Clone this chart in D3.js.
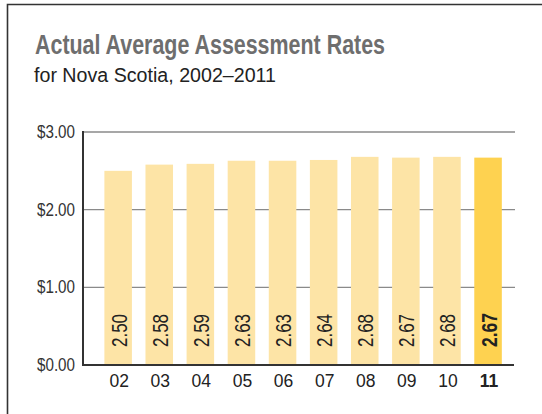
<!DOCTYPE html>
<html>
  <head>
    <script src="https://d3js.org/d3.v7.min.js"></script>
    <style>
      body { margin: 0; background: #fff; }
      text { font-family: "Liberation Sans", Arial, sans-serif; }
      .title { font-size: 28.5px; font-weight: bold; fill: #6e6e6e; }
      .subtitle { font-size: 20px; fill: #222; }
      .ytick { font-size: 17.5px; fill: #333; }
      .xtick { font-size: 17.5px; fill: #222; }
      .val { font-size: 22px; fill: #222; }
    </style>
  </head>
  <body>
    <svg width="542" height="414"></svg>
    <script>
      const years = ["02", "03", "04", "05", "06", "07", "08", "09", "10", "11"];
      const rates = [2.50, 2.58, 2.59, 2.63, 2.63, 2.64, 2.68, 2.67, 2.68, 2.67];
      const yTicks = [0, 1, 2, 3];
      const highlight = "11";

      const svg = d3.select("svg");

      // frame
      svg.append("path")
        .attr("d", "M7.5,414 V4.5 H542")
        .attr("fill", "none")
        .attr("stroke", "#333")
        .attr("stroke-width", 1.6);

      // the original face is condensed, so squeeze the text to its width
      svg.append("text").attr("class", "title")
        .attr("x", 35).attr("y", 53.5)
        .attr("textLength", 350).attr("lengthAdjust", "spacingAndGlyphs")
        .text("Actual Average Assessment Rates");
      svg.append("text").attr("class", "subtitle")
        .attr("x", 34).attr("y", 82)
        .attr("textLength", 242).attr("lengthAdjust", "spacingAndGlyphs")
        .text("for Nova Scotia, 2002–2011");

      const plotL = 83, plotR = 515, plotT = 132, plotB = 365;

      const y = d3.scaleLinear().domain([0, 3]).range([plotB, plotT]);
      const x = d3.scaleBand().domain(years)
        .range([97.6, 508.6])
        .paddingInner(0.33)
        .paddingOuter(0.165);

      // gridlines
      svg.append("g").selectAll("line")
        .data(yTicks.filter(d => d > 0))
        .join("line")
        .attr("x1", plotL).attr("x2", plotR)
        .attr("y1", d => y(d)).attr("y2", d => y(d))
        .attr("stroke", "#8a8a8a")
        .attr("stroke-width", 1.4);

      // y labels
      svg.append("g").selectAll("text")
        .data(yTicks)
        .join("text")
        .attr("class", "ytick")
        .attr("x", 75)
        .attr("y", d => y(d))
        .attr("dy", "0.35em")
        .attr("text-anchor", "end")
        .attr("textLength", 38).attr("lengthAdjust", "spacingAndGlyphs")
        .text(d => "$" + d.toFixed(2));

      // bars
      svg.append("g").selectAll("rect")
        .data(years)
        .join("rect")
        .attr("x", d => x(d))
        .attr("width", x.bandwidth())
        .attr("y", (d, i) => y(rates[i]))
        .attr("height", (d, i) => plotB - y(rates[i]))
        .attr("fill", d => d === highlight ? "#fed250" : "#fde4a6");

      // value labels
      svg.append("g").selectAll("text")
        .data(years)
        .join("text")
        .attr("class", "val")
        .attr("transform", d => `translate(${x(d) + x.bandwidth() / 2 + 8.5},${plotB - 18}) rotate(-90)`)
        .attr("font-weight", d => d === highlight ? "bold" : null)
        .attr("textLength", d => d === highlight ? 34 : 33)
        .attr("lengthAdjust", "spacingAndGlyphs")
        .text((d, i) => rates[i].toFixed(2));

      // axis lines
      svg.append("line")
        .attr("x1", plotL).attr("x2", 514)
        .attr("y1", plotB).attr("y2", plotB)
        .attr("stroke", "#333").attr("stroke-width", 2);
      svg.append("line")
        .attr("x1", plotL).attr("x2", plotL)
        .attr("y1", plotT - 1).attr("y2", plotB + 1)
        .attr("stroke", "#333").attr("stroke-width", 2);

      // x labels
      svg.append("g").selectAll("text")
        .data(years)
        .join("text")
        .attr("class", "xtick")
        .attr("x", d => x(d) + x.bandwidth() / 2 + 1)
        .attr("y", 387)
        .attr("text-anchor", "middle")
        .attr("font-weight", d => d === highlight ? "bold" : null)
        .text(d => d);
    </script>
  </body>
</html>
